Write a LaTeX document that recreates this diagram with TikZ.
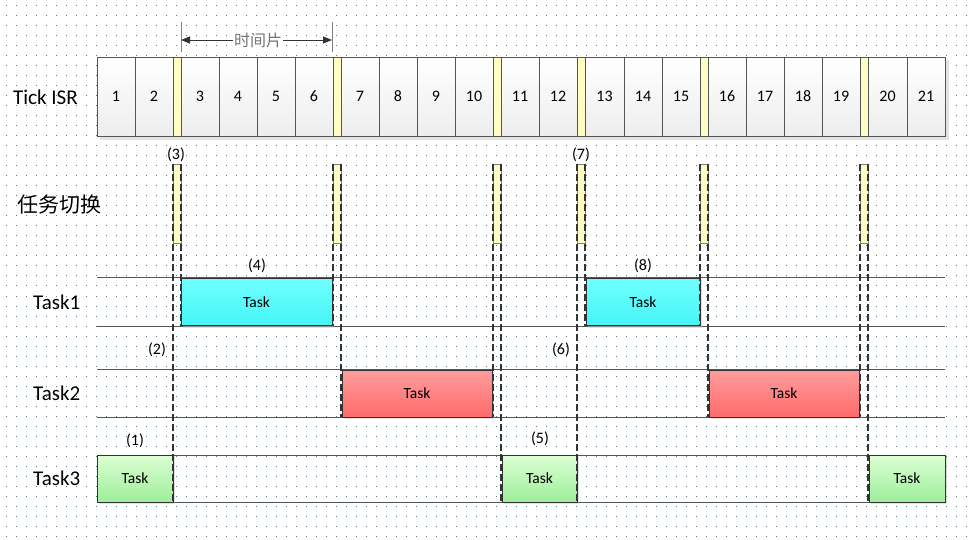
\documentclass[tikz,border=0pt]{standalone}
\usepackage{fontspec}
\setmainfont{Carlito}
\newfontfamily\cjk{Noto Sans CJK SC}
\usetikzlibrary{arrows.meta,shadows}
\definecolor{ln}{HTML}{555555}
\definecolor{dk}{HTML}{333333}
\definecolor{dotc}{HTML}{4F8080}
\definecolor{yel}{HTML}{FFFDC2}
\definecolor{cyT}{HTML}{70FFFF}
\definecolor{cyB}{HTML}{45F5F5}
\definecolor{rdT}{HTML}{FF9C9C}
\definecolor{rdB}{HTML}{FF6C6C}
\definecolor{gnT}{HTML}{DCFFD4}
\definecolor{gnB}{HTML}{9EEE9A}
\begin{document}
\begin{tikzpicture}[x=1pt,y=-1pt,
  cell/.style={draw=ln, line width=0.8pt, top color=white, bottom color=gray!14, minimum height=79pt, inner sep=0pt, outer sep=0pt, font=\fontsize{16}{18}\selectfont},
  ystrip/.style={draw=ln, line width=0.8pt, fill=yel, minimum width=8pt, minimum height=79pt, inner sep=0pt, outer sep=0pt},
  swbar/.style={draw=gray, line width=0.8pt, fill=yel, minimum width=8pt, minimum height=79pt, inner sep=0pt, outer sep=0pt},
  tbox/.style={draw=dk, line width=0.9pt, minimum height=47pt, inner sep=0pt, outer sep=0pt, font=\fontsize{15.5}{17}\selectfont,
     drop shadow={shadow xshift=2pt, shadow yshift=-2pt, fill=gray!45, opacity=.5}},
  cyanbox/.style={tbox, top color=cyT, bottom color=cyB},
  redbox/.style={tbox, top color=rdT, bottom color=rdB},
  greenbox/.style={tbox, top color=gnT, bottom color=gnB},
  dsh/.style={draw=dk, line width=1.2pt, dash pattern=on 7pt off 3pt},
  rowline/.style={draw=ln, line width=1pt},
  lbl/.style={font=\fontsize{16}{18}\selectfont, inner sep=0pt},
  rowlbl/.style={font=\fontsize{21}{23}\selectfont, inner sep=0pt, anchor=west},
  arr/.style={draw=dk, line width=0.9pt, -{Triangle[length=9pt,width=7pt]}},
  ext/.style={draw=gray, line width=0.8pt}
]
\useasboundingbox (0,0) rectangle (975,540);
\fill[white] (0,0) rectangle (975,540);
\foreach \yy in {6,16,...,536}
  \draw[dotc, line width=1pt, dash pattern=on 1pt off 9pt] (6,\yy) -- (975,\yy);

% time slice
\coordinate (tsL) at (181,22);
\coordinate (tsR) at (332,22);
\draw[ext] (tsL) -- ++(0,30);
\draw[ext] (tsR) -- ++(0,30);
\node[font=\cjk\fontsize{16}{18}\selectfont, text=gray!90!black, inner sep=1pt, fill=white] (ts) at (258,40) {时间片};
\draw[arr] (ts.west) -- (tsL |- ts.west);
\draw[arr] (ts.east) -- (tsR |- ts.east);

% Tick ISR bar
\fill[gray!22] (100,60) rectangle (949,140);
\foreach \a/\b/\t [count=\i] in {97/135/1,135/173/2,181/219/3,219/257/4,257/295/5,295/333/6,341/379/7,379/417/8,417/455/9,455/493/10,501/539/11,539/577/12,585/624/13,624/662/14,662/700/15,708/746/16,746/784/17,784/822/18,822/860/19,868/907/20,907/945/21}
  \node[cell, minimum width={(\b-\a)*1pt}] (c\i) at ({(\a+\b)/2},96.5) {\t};
\foreach \a [count=\i] in {173,333,493,577,700,860}
  \node[ystrip] (y\i) at (\a+4,96.5) {};

% row labels
\node[rowlbl] (rTick) at (13,97) {Tick ISR};
\node[rowlbl] (rSw) at (17,205) {\cjk 任务切换};
\node[rowlbl] (r1) at (33,302) {Task1};
\node[rowlbl] (r2) at (33,393) {Task2};
\node[rowlbl] (r3) at (33,478) {Task3};

% row lines
\draw[rowline] (97,278) -- (945,278);
\draw[rowline] (97,326) -- (945,326);
\draw[rowline] (97,369) -- (945,369);
\draw[rowline] (97,417) -- (945,417);
\draw[rowline] (97,455) -- (945,455);
\draw[rowline] (97,502) -- (945,502);

% task boxes
\node[greenbox, minimum width=76pt] (t3a) at (135,478.5) {Task};
\node[cyanbox, minimum width=151pt] (t1a) at (256.5,302) {Task};
\node[redbox, minimum width=150pt] (t2a) at (417,393.5) {Task};
\node[greenbox, minimum width=75pt] (t3b) at (539.5,478.5) {Task};
\node[cyanbox, minimum width=114pt] (t1b) at (643,302) {Task};
\node[redbox, minimum width=150pt] (t2b) at (784,393.5) {Task};
\node[greenbox, minimum width=76pt] (t3c) at (907,478.5) {Task};

% switch bars
\foreach \a [count=\i] in {173,333,493,577,700,860}
  \node[swbar] (s\i) at (\a+4,203.5) {};
\foreach \i/\l/\r in {1/t3a/t1a,2/t1a/t2a,3/t2a/t3b,4/t3b/t1b,5/t1b/t2b,6/t2b/t3c}{
  \draw[dsh] (s\i.north west) -- (s\i.north west |- \l.south);
  \draw[dsh] (s\i.north east) -- (s\i.north east |- \r.south);
}

% step labels
\node[lbl] (n1) at (135,441) {(1)};
\node[lbl] (n2) at (157,350) {(2)};
\node[lbl] (n3) at (176,155) {(3)};
\node[lbl] (n4) at (257,266) {(4)};
\node[lbl] (n5) at (540,439) {(5)};
\node[lbl] (n6) at (561,350) {(6)};
\node[lbl] (n7) at (581,155) {(7)};
\node[lbl] (n8) at (643,266) {(8)};
\end{tikzpicture}
\end{document}
